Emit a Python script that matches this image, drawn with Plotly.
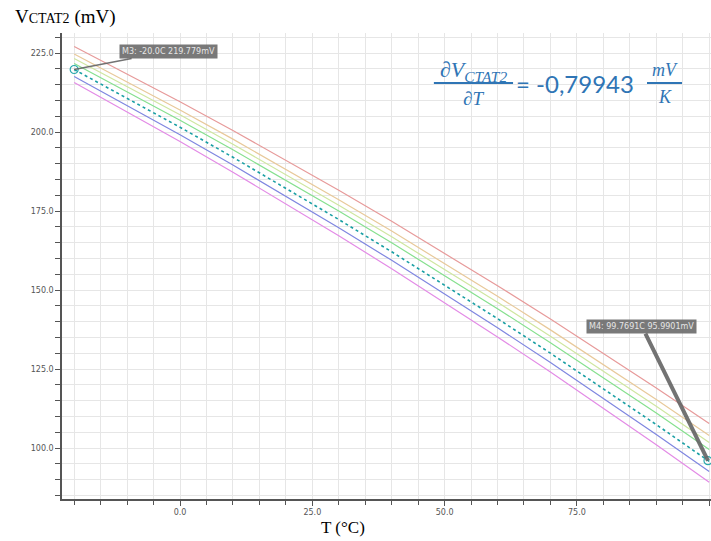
import plotly.graph_objects as go

# ---- data ----
temps = [-20, -10, 0, 10, 20, 30, 40, 50, 60, 70, 80, 90, 100]

v_red = [227.08, 218.45, 209.59, 200.49, 191.15, 181.56, 171.74, 161.67, 151.36, 140.83, 130.04, 119.02, 107.75]
v_tan = [224.68, 215.94, 206.96, 197.74, 188.28, 178.58, 168.64, 158.46, 148.03, 137.38, 126.47, 115.34, 103.95]
v_yel = [223.28, 214.47, 205.43, 196.14, 186.61, 176.84, 166.84, 156.59, 146.10, 135.38, 124.40, 113.20, 101.75]
v_grn = [221.68, 212.82, 203.73, 194.39, 184.81, 174.99, 164.94, 154.64, 144.10, 133.33, 122.30, 111.05, 99.55]
v_teal = [219.78, 210.76, 201.51, 192.01, 182.28, 172.30, 162.09, 151.63, 140.93, 130.00, 118.82, 107.41, 95.75]
v_blue = [217.58, 208.48, 199.14, 189.56, 179.75, 169.68, 159.39, 148.85, 138.06, 127.05, 115.79, 104.29, 92.55]
v_mag = [215.68, 206.45, 196.99, 187.28, 177.35, 167.16, 156.74, 146.07, 135.16, 124.02, 112.64, 101.02, 89.15]

marker_T = [-20.0, 99.7691]
marker_V = [219.779, 95.9901]
marker_labels = ["M3: -20.0C 219.779mV", "M4: 99.7691C 95.9901mV"]

x_ticks = [0, 25, 50, 75, 100]
y_ticks = [100, 125, 150, 175, 200, 225]

series = [
    (v_red, "#e79a9a", "solid"),
    (v_tan, "#e8c99a", "solid"),
    (v_yel, "#cfe6a0", "solid"),
    (v_grn, "#86e08e", "solid"),
    (v_blue, "#7f86e0", "solid"),
    (v_mag, "#e38be6", "solid"),
]

fig = go.Figure()
for vals, col, dash in series:
    fig.add_trace(go.Scatter(x=temps, y=vals, mode="lines",
                             line=dict(color=col, width=1.2, dash=dash),
                             showlegend=False, hoverinfo="skip"))
fig.add_trace(go.Scatter(x=temps, y=v_teal, mode="lines",
                         line=dict(color="#1a9fa4", width=1.6, dash="dot"),
                         showlegend=False))
fig.add_trace(go.Scatter(x=marker_T, y=marker_V, mode="markers",
                         marker=dict(symbol="circle-open", size=8,
                                     color="#2aa9ad", line=dict(width=1.2)),
                         showlegend=False, cliponaxis=False))

# marker callouts
offsets = [(94, -18), (-66, -134)]
widths = [1.5, 4]
for t, v, lab, (ax, ay), w in zip(marker_T, marker_V, marker_labels, offsets, widths):
    fig.add_annotation(x=t, y=v, xref="x", yref="y", text=lab,
                       showarrow=True, arrowhead=0, arrowwidth=w,
                       arrowcolor="rgba(100,100,100,0.9)", ax=ax, ay=ay,
                       bgcolor="rgba(110,110,110,0.92)", borderpad=2,
                       font=dict(family="DejaVu Sans", size=8, color="#e6e6e6"))

grid = "#e6e6e6"
fig.update_xaxes(range=[-22.3, 100.34], tickvals=x_ticks,
                 ticktext=[f"{v:.1f}" for v in x_ticks], automargin=False,
                 showline=True, linecolor="#555", linewidth=1.5,
                 ticks="outside", ticklen=5, tickcolor="#555",
                 showgrid=True, gridcolor=grid, zeroline=False,
                 minor=dict(dtick=5, tick0=0, ticks="outside", ticklen=4,
                            tickcolor="#555", showgrid=True, gridcolor=grid),
                 tickfont=dict(family="DejaVu Sans", size=8, color="#555"))
fig.update_yaxes(range=[83.86, 231.33], tickvals=y_ticks,
                 ticktext=[f"{v:.1f}" for v in y_ticks], automargin=False,
                 showline=True, linecolor="#555", linewidth=1.5,
                 ticks="outside", ticklen=5, tickcolor="#555",
                 showgrid=True, gridcolor=grid, zeroline=False,
                 minor=dict(dtick=5, tick0=0, ticks="outside", ticklen=5,
                            tickcolor="#555", showgrid=True, gridcolor=grid),
                 tickfont=dict(family="DejaVu Sans", size=8, color="#555"))

blue = "#2f75b5"
serif = "Liberation Serif"
mfont = "Liberation Serif"
# axis titles
fig.add_annotation(xref="paper", yref="paper", x=-0.0755, y=1.034,
                   xanchor="left", yanchor="middle", showarrow=False,
                   text="V<span style='font-size:14px'>CTAT2</span> (mV)",
                   font=dict(family=serif, size=19, color="black"))
fig.add_annotation(xref="paper", yref="paper", x=0.433, y=-0.062,
                   xanchor="center", yanchor="middle", showarrow=False,
                   text="T (°C)", font=dict(family=serif, size=17, color="black"))

# derivative expression
fig.add_annotation(xref="paper", yref="paper", x=0.6333, y=0.918,
                   xanchor="center", yanchor="middle", showarrow=False,
                   text="<i>∂V<sub>CTAT2</sub></i>",
                   font=dict(family=mfont, size=22, color=blue))
fig.add_annotation(xref="paper", yref="paper", x=0.6333, y=0.8605,
                   xanchor="center", yanchor="middle", showarrow=False,
                   text="<i>∂T</i>", font=dict(family=mfont, size=19, color=blue))
fig.add_annotation(xref="paper", yref="paper", x=0.697, y=0.8927,
                   xanchor="left", yanchor="middle", showarrow=False,
                   text="= -0,79943", font=dict(family="Lato", size=24, color=blue))
fig.add_annotation(xref="paper", yref="paper", x=0.9284, y=0.921,
                   xanchor="center", yanchor="middle", showarrow=False,
                   text="<i>mV</i>", font=dict(family=mfont, size=18, color=blue))
fig.add_annotation(xref="paper", yref="paper", x=0.9284, y=0.8627,
                   xanchor="center", yanchor="middle", showarrow=False,
                   text="<i>K</i>", font=dict(family=mfont, size=18, color=blue))
fig.add_shape(type="line", xref="paper", yref="paper", x0=0.573, x1=0.695,
              y0=0.8927, y1=0.8927, line=dict(color=blue, width=2))
fig.add_shape(type="line", xref="paper", yref="paper", x0=0.9014, x1=0.9553,
              y0=0.8927, y1=0.8927, line=dict(color=blue, width=2))

fig.update_layout(width=711, height=541,
                  margin=dict(l=62, r=0, t=33, b=42, autoexpand=False),
                  paper_bgcolor="white", plot_bgcolor="white",
                  showlegend=False)

# remove the default 8px page margin so the figure fills the window exactly
fig.write_html("out.html", config={"displayModeBar": False},
               post_script="document.body.style.margin='0';"
                           "document.body.style.overflow='hidden';")
